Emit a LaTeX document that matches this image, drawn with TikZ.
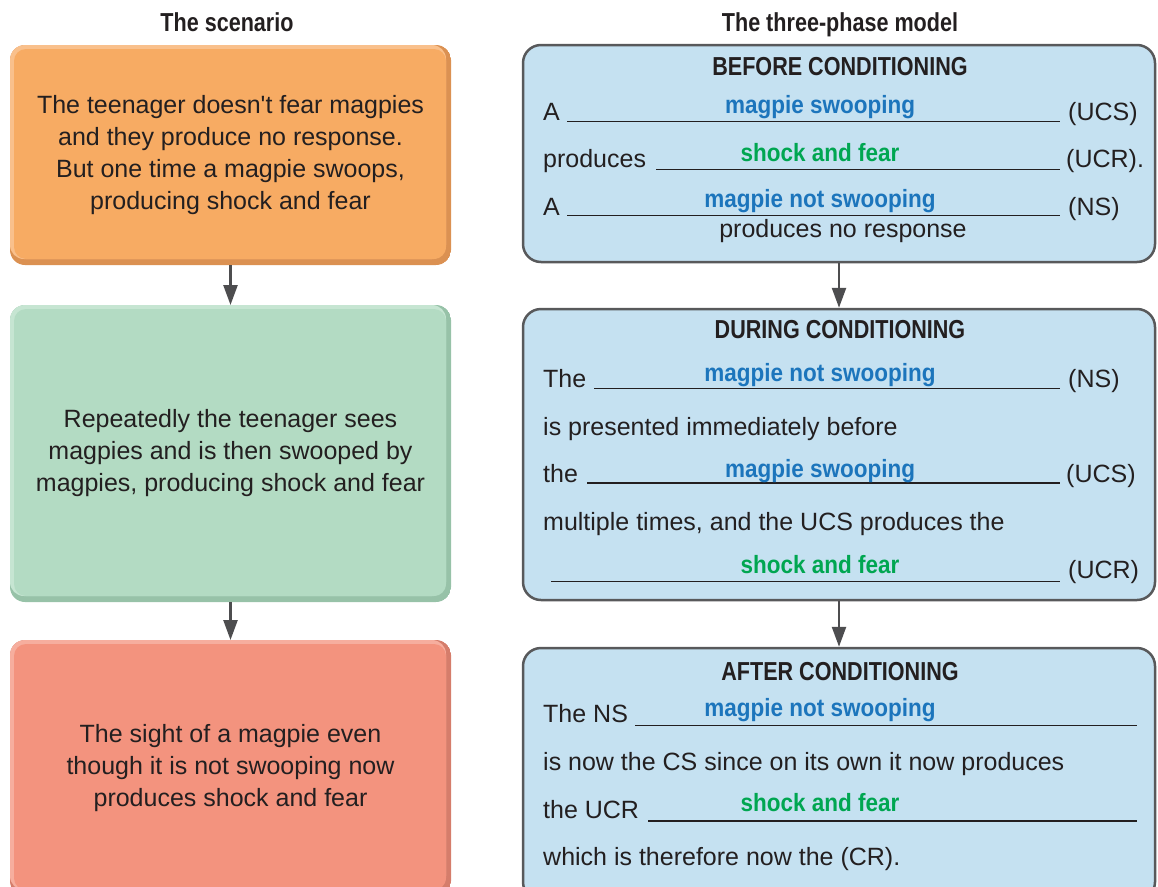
\documentclass[tikz,border=0pt]{standalone}
\usepackage{fontspec}
\setmainfont{Liberation Sans}[Ligatures=TeXOff]
\newfontfamily\headfont[FakeStretch=0.83]{Liberation Sans Bold}
\newfontfamily\fillfont[FakeStretch=0.9]{Liberation Sans Bold}
\usetikzlibrary{arrows.meta}

\definecolor{inkgray}{HTML}{231F20}
\definecolor{edgegray}{HTML}{58595B}
\definecolor{arrowgray}{HTML}{4D4D4F}
\definecolor{phasefill}{HTML}{C5E1F1}
\definecolor{fillblue}{HTML}{1C75BC}
\definecolor{fillgreen}{HTML}{00A651}
\definecolor{orangeM}{HTML}{F7AB63}
\definecolor{orangeL}{HTML}{F9C08C}
\definecolor{orangeD}{HTML}{DB9152}
\definecolor{greenM}{HTML}{B3DBC3}
\definecolor{greenL}{HTML}{C6E5D2}
\definecolor{greenD}{HTML}{97C2A8}
\definecolor{redM}{HTML}{F3937E}
\definecolor{redL}{HTML}{F6AE9E}
\definecolor{redD}{HTML}{D57D6B}

\tikzset{
  bodytxt/.style={font=\fontsize{25}{32}\selectfont, text=inkgray, inner sep=0pt},
  headtxt/.style={font=\headfont\fontsize{26}{30}\selectfont, text=inkgray, inner sep=0pt},
  filltxt/.style={font=\fillfont\fontsize{25}{30}\selectfont, inner sep=0pt, anchor=base},
  blank/.style={draw=inkgray, line width=1.5pt},
  % bevelled scenario card: main colour, light top/left rim, dark bottom/right rim
  scenebox/.style n args={3}{
    rectangle, rounded corners=15pt, inner sep=0pt, outer sep=0pt,
    align=center, font=\fontsize{25}{32}\selectfont, text=inkgray,
    minimum width=441pt,
    path picture={
      \fill[#3] (path picture bounding box.south west) rectangle (path picture bounding box.north east);
      \fill[#2, rounded corners=14pt] (path picture bounding box.north west)
        rectangle ([xshift=-5pt,yshift=6pt]path picture bounding box.south east);
      \fill[#1, rounded corners=12pt] ([xshift=4pt,yshift=-4pt]path picture bounding box.north west)
        rectangle ([xshift=-5pt,yshift=6pt]path picture bounding box.south east);
    }},
  phasebox/.style={rectangle, rounded corners=18pt, draw=edgegray, line width=2.5pt,
    fill=phasefill, inner sep=0pt, minimum width=632pt},
  flowarrow/.style={draw=arrowgray, line width=2.5pt,
    -{Triangle[length=20pt,width=14pt]}},
}

\begin{document}
\begin{tikzpicture}[x=1pt,y=-1pt]
\useasboundingbox (0,0) rectangle (1158,886);

% column titles
\node[headtxt, anchor=base] (titleL) at (227,31) {The scenario};
\node[headtxt, anchor=base] (titleR) at (840,31) {The three-phase model};

% scenario column
\node[scenebox={orangeM}{orangeL}{orangeD}, minimum height=220pt] (s1) at (230.5,155)
  {\rule{0pt}{6pt}The teenager doesn't fear magpies\\and they produce no response.\\But one time a magpie swoops,\\producing shock and fear};
\node[scenebox={greenM}{greenL}{greenD}, minimum height=297pt] (s2) at (230.5,453.5)
  {Repeatedly the teenager sees\\magpies and is then swooped by\\magpies, producing shock and fear};
\node[scenebox={redM}{redL}{redD}, minimum height=256pt] (s3) at (230.5,768)
  {The sight of a magpie even\\though it is not swooping now\\produces shock and fear};

\draw[flowarrow] (s1) -- (s2);
\draw[flowarrow] (s2) -- (s3);

% three-phase column
\node[phasebox, minimum height=217pt] (p1) at (839,153.5) {};
\node[phasebox, minimum height=291pt] (p2) at (839,454.5) {};
\node[phasebox, minimum height=252pt] (p3) at (839,774) {};

\draw[flowarrow] (p1) -- (p2);
\draw[flowarrow] (p2) -- (p3);

% before conditioning
\node[headtxt, anchor=base] (b0) at (840,75) {BEFORE CONDITIONING};
\node[bodytxt, anchor=base west] (b1) at (543,120) {A};
\draw[blank] (567,121.5) -- (1060,121.5);
\node[filltxt, text=fillblue] (b1f) at (820,113) {magpie swooping};
\node[bodytxt, anchor=base west] (b1e) at (1068,120) {(UCS)};
\node[bodytxt, anchor=base west] (b2) at (543,167) {produces};
\draw[blank] (656,169.5) -- (1060,169.5);
\node[filltxt, text=fillgreen] (b2f) at (820,161.5) {shock and fear};
\node[bodytxt, anchor=base west] (b2e) at (1066,167) {(UCR).};
\node[bodytxt, anchor=base west] (b3) at (543,215) {A};
\draw[blank] (567,215.5) -- (1060,215.5);
\node[filltxt, text=fillblue] (b3f) at (820,207) {magpie not swooping};
\node[bodytxt, anchor=base west] (b3e) at (1068,215) {(NS)};
\node[bodytxt, anchor=base] (b4) at (843,237) {produces no response};

% during conditioning
\node[headtxt, anchor=base] (d0) at (840,338) {DURING CONDITIONING};
\node[bodytxt, anchor=base west] (d1) at (543,387.5) {The};
\draw[blank] (594,388.5) -- (1060,388.5);
\node[filltxt, text=fillblue] (d1f) at (820,381.5) {magpie not swooping};
\node[bodytxt, anchor=base west] (d1e) at (1068,387.5) {(NS)};
\node[bodytxt, anchor=base west] (d2) at (543,435) {is presented immediately before};
\node[bodytxt, anchor=base west] (d3) at (543,482.5) {the};
\draw[blank] (587,483) -- (1060,483);
\node[filltxt, text=fillblue] (d3f) at (820,477.5) {magpie swooping};
\node[bodytxt, anchor=base west] (d3e) at (1066,482.5) {(UCS)};
\node[bodytxt, anchor=base west] (d4) at (543,530.5) {multiple times, and the UCS produces the};
\draw[blank] (551,581.5) -- (1060,581.5);
\node[filltxt, text=fillgreen] (d5f) at (820,573) {shock and fear};
\node[bodytxt, anchor=base west] (d5e) at (1068,578) {(UCR)};

% after conditioning
\node[headtxt, anchor=base] (a0) at (840,680) {AFTER CONDITIONING};
\node[bodytxt, anchor=base west] (a1) at (543,722) {The NS};
\draw[blank] (635,725.5) -- (1137,725.5);
\node[filltxt, text=fillblue] (a1f) at (820,716.5) {magpie not swooping};
\node[bodytxt, anchor=base west] (a2) at (543,770) {is now the CS since on its own it now produces};
\node[bodytxt, anchor=base west] (a3) at (543,818) {the UCR};
\draw[blank] (648,821) -- (1137,821);
\node[filltxt, text=fillgreen] (a3f) at (820,811.5) {shock and fear};
\node[bodytxt, anchor=base west] (a4) at (543,865) {which is therefore now the (CR).};
\end{tikzpicture}
\end{document}
